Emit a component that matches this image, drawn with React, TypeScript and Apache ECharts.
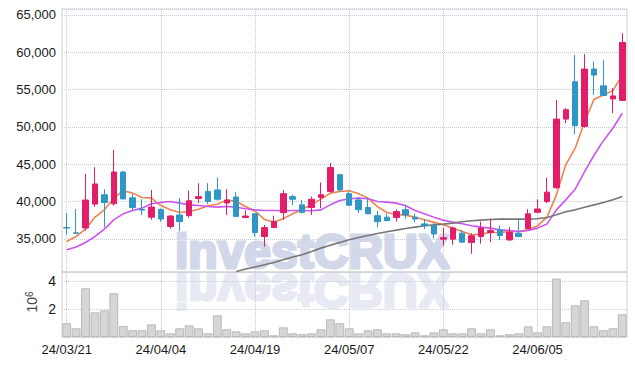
import React, { useEffect, useRef } from "react";
import * as echarts from "echarts";

const dates = [
  "24/03/21", "24/03/22", "24/03/25", "24/03/26", "24/03/27", "24/03/28", "24/03/29",
  "24/04/01", "24/04/02", "24/04/03", "24/04/04", "24/04/05", "24/04/08", "24/04/09",
  "24/04/11", "24/04/12", "24/04/15", "24/04/16", "24/04/17", "24/04/18", "24/04/19",
  "24/04/22", "24/04/23", "24/04/24", "24/04/25", "24/04/26", "24/04/29", "24/04/30",
  "24/05/02", "24/05/03", "24/05/07", "24/05/08", "24/05/09", "24/05/10", "24/05/13",
  "24/05/14", "24/05/16", "24/05/17", "24/05/20", "24/05/21", "24/05/22", "24/05/23",
  "24/05/24", "24/05/27", "24/05/28", "24/05/29", "24/05/30", "24/05/31", "24/06/03",
  "24/06/04", "24/06/05", "24/06/07", "24/06/10", "24/06/11", "24/06/12", "24/06/13",
  "24/06/14", "24/06/17", "24/06/18", "24/06/19",
];

const opens = [
  36500, 35800, 36450, 39650, 40900, 39700, 43950, 40500, 38950, 37900,
  38950, 36650, 38200, 38100, 40400, 41350, 41550, 39800, 40600, 37850,
  38350, 35300, 36500, 38500, 40650, 39550, 39200, 40550, 41350, 43600,
  41050, 40200, 39200, 38100, 37900, 37850, 38900, 37900, 37000, 36750,
  34950, 34950, 35750, 34500, 35300, 35850, 36200, 34850, 35750, 36350,
  38550, 40000, 41850, 51050, 56050, 50050, 57750, 55500, 53750, 53550,
];
const closes = [
  36450, 35750, 40200, 42350, 39850, 43950, 40350, 39200, 38850, 39250,
  37650, 38050, 37300, 40100, 40650, 40000, 40300, 40200, 38000, 38050,
  35850, 36500, 37300, 41050, 40300, 38550, 40300, 40900, 44550, 41550,
  39500, 38900, 38350, 37300, 37450, 38650, 38200, 37650, 36750, 35650,
  35150, 36450, 34550, 35400, 36450, 36100, 35450, 35850, 35300, 38350,
  39000, 41250, 51050, 52300, 50150, 57750, 56950, 54200, 54150, 61300,
];
const lows = [
  35550, 35700, 36100, 39300, 36550, 39450, 40300, 38800, 38200, 37550,
  37300, 36350, 36050, 37850, 39800, 39650, 40100, 38200, 37900, 37800,
  35300, 33950, 36450, 37550, 39550, 38400, 38200, 39100, 41200, 41300,
  39400, 38450, 38300, 36550, 37350, 37300, 37700, 37200, 36300, 35050,
  34050, 34200, 34500, 33000, 34350, 34550, 34800, 34750, 35250, 36300,
  38450, 39800, 41700, 50500, 49000, 49900, 54300, 54150, 51850, 53500,
];
const highs = [
  38450, 39000, 43700, 44600, 41650, 46900, 44100, 41000, 40300, 41550,
  39050, 38200, 40450, 41450, 42450, 42450, 43250, 41650, 41250, 38800,
  38400, 36850, 38100, 41550, 40900, 40200, 40650, 42550, 45150, 43650,
  41350, 40600, 40450, 38750, 38350, 38950, 39550, 38350, 37650, 37100,
  36450, 36650, 36200, 35750, 37300, 37700, 36800, 36550, 37650, 38950,
  40300, 43200, 53600, 52500, 59650, 59750, 58750, 58950, 55200, 62550,
];
// volume in millions of shares (axis unit 10^6)
const volumes = [
  0.98, 0.62, 3.48, 1.76, 1.9, 3.12, 0.79, 0.48, 0.48, 0.9,
  0.48, 0.26, 0.62, 0.83, 0.62, 0.26, 1.55, 0.55, 0.4, 0.26,
  0.4, 0.48, 0.12, 0.69, 0.26, 0.2, 0.26, 0.55, 1.26, 0.98,
  0.62, 0.26, 0.48, 0.55, 0.26, 0.26, 0.2, 0.33, 0.12, 0.33,
  0.55, 0.26, 0.26, 0.62, 0.26, 0.55, 0.12, 0.2, 0.26, 0.76,
  0.33, 0.76, 4.17, 1.05, 2.26, 2.62, 0.76, 0.48, 0.62, 1.62,
];
const ma5 = [
  34640, 35310, 36300, 37900, 38880, 40450, 41430, 41120, 40530, 40450,
  39460, 38880, 38520, 38660, 38970, 39420, 39640, 40220, 39990, 39320,
  38700, 37600, 37250, 37700, 38350, 38970, 39550, 40320, 41120, 41330,
  41430, 41030, 40450, 39320, 38520, 38250, 38170, 37900, 37540, 37200,
  36870, 36430, 35980, 35540, 35630, 35850, 35850, 35980, 35980, 36200,
  36740, 37900, 40890, 44910, 47150, 50700, 53710, 54280, 54860, 56960,
];
const ma20 = [
  33530, 33890, 34510, 35310, 36300, 37540, 38350, 38790, 39110, 39690,
  39860, 39990, 39780, 39550, 39460, 39320, 39240, 39320, 39240, 39020,
  38880, 38790, 38790, 38750, 38790, 38790, 38750, 38880, 39550, 40130,
  40360, 40450, 40360, 39990, 39910, 39780, 39420, 38790, 38350, 37900,
  37500, 37230, 37010, 36740, 36560, 36430, 36200, 36110, 35980, 36110,
  36430, 36970, 38880, 40220, 41650, 44000, 46200, 48150, 49820, 51830,
];
const ma60 = [
  null, null, null, null, null, null, null, null, null, null,
  null, null, null, null, null, null, null, null, 30620, 30940,
  31210, 31520, 31830, 32190, 32550, 32860, 33300, 33750, 34150, 34510,
  34870, 35180, 35450, 35720, 35940, 36160, 36380, 36560, 36740, 36870,
  36970, 37100, 37280, 37410, 37500, 37590, 37640, 37640, 37640, 37640,
  37680, 37850, 38210, 38620, 38880, 39240, 39550, 39860, 40220, 40660,
];

export default function App() {
  const ref = useRef<HTMLDivElement>(null);
  useEffect(() => {
    const chart = echarts.init(ref.current!, null, { renderer: "svg" });
    const font = "'Liberation Sans', Arial, sans-serif";
    const candles = dates.map((_, i) => [opens[i], closes[i], lows[i], highs[i]]);
    const gridLine = { show: true, lineStyle: { color: "#c6cbde", type: "dotted", width: 1 } };
    const xSplit = { ...gridLine, interval: 9, alignWithLabel: true };
    const labelStyle = { fontFamily: font, fontSize: 13, color: "#1a1a1a" };
    chart.setOption({
      animation: false,
      backgroundColor: "#ffffff",
      textStyle: { fontFamily: font },
      grid: [
        { left: 62, right: 8, top: 9, height: 263, show: true, borderColor: "#d0d0d0", borderWidth: 1 },
        { left: 62, right: 8, top: 272, height: 65, show: true, borderColor: "#d0d0d0", borderWidth: 1 },
      ],
      xAxis: [
        {
          type: "category", data: dates, gridIndex: 0, boundaryGap: true,
          axisLine: { show: false }, axisTick: { show: false }, axisLabel: { show: false },
          splitLine: xSplit,
        },
        {
          type: "category", data: dates, gridIndex: 1, boundaryGap: true,
          axisLine: { show: false }, axisTick: { show: false },
          axisLabel: { ...labelStyle, interval: 9, margin: 6 },
          splitLine: xSplit,
        },
      ],
      yAxis: [
        {
          type: "value", gridIndex: 0, min: 30550, max: 65800, splitNumber: 7,
          minInterval: 5000, maxInterval: 5000,
          axisLine: { show: false }, axisTick: { show: false },
          axisLabel: {
            ...labelStyle, margin: 6, showMinLabel: false, showMaxLabel: false,
            formatter: (v: number) => v.toLocaleString("en-US"),
          },
          splitLine: gridLine,
        },
        {
          type: "value", gridIndex: 1, min: 0, max: 4.64, interval: 2,
          axisLine: { show: false }, axisTick: { show: false },
          axisLabel: { ...labelStyle, fontSize: 14, margin: 6, showMinLabel: false, showMaxLabel: false },
          splitLine: gridLine,
        },
      ],
      graphic: [
        {
          type: "text", x: 175, y: 251, z: -10, silent: true,
          style: {
            text: "investCRUX", font: "900 48px 'Liberation Sans', Arial, sans-serif",
            fill: "#d2d8ea", stroke: "#d2d8ea", lineWidth: 3, align: "left", verticalAlign: "middle",
          },
        },
        {
          type: "text", x: 175, y: 290, scaleY: -1, z: -10, silent: true,
          style: {
            text: "investCRUX", font: "900 48px 'Liberation Sans', Arial, sans-serif",
            fill: "#e7eaf2", stroke: "#e7eaf2", lineWidth: 3, align: "left", verticalAlign: "middle",
          },
        },
        {
          type: "text", x: 32, y: 302, rotation: Math.PI / 2, silent: true,
          style: {
            text: "{a|10}{b|6}", align: "center", verticalAlign: "middle",
            rich: {
              a: { fontSize: 14, fontFamily: font, fill: "#444" },
              b: { fontSize: 10, fontFamily: font, fill: "#444", verticalAlign: "top", padding: [0, 0, 6, 0] },
            },
          },
        },
      ],
      series: [
        {
          type: "candlestick", name: "price", xAxisIndex: 0, yAxisIndex: 0, data: candles,
          barWidth: "64%",
          itemStyle: { color: "#e21d6a", color0: "#2f96c6", borderColor: "#e21d6a", borderColor0: "#2f96c6", borderWidth: 1 },
          z: 5,
        },
        {
          type: "line", name: "MA5", data: ma5, xAxisIndex: 0, yAxisIndex: 0, symbol: "none",
          lineStyle: { color: "#ee8350", width: 1.6 }, z: 3,
        },
        {
          type: "line", name: "MA20", data: ma20, xAxisIndex: 0, yAxisIndex: 0, symbol: "none",
          lineStyle: { color: "#cc55ee", width: 1.6 }, z: 3,
        },
        {
          type: "line", name: "MA60", data: ma60, xAxisIndex: 0, yAxisIndex: 0, symbol: "none",
          lineStyle: { color: "#777777", width: 1.6 }, z: 3, connectNulls: false,
        },
        {
          type: "bar", name: "volume", data: volumes, xAxisIndex: 1, yAxisIndex: 1,
          barCategoryGap: "6%",
          itemStyle: { color: "#d6d6d6", borderColor: "#b9b9b9", borderWidth: 1 },
        },
      ],
    });
    return () => chart.dispose();
  }, []);
  return <div ref={ref} style={{ position: "absolute", left: 0, top: 0, width: 635, height: 366 }} />;
}
